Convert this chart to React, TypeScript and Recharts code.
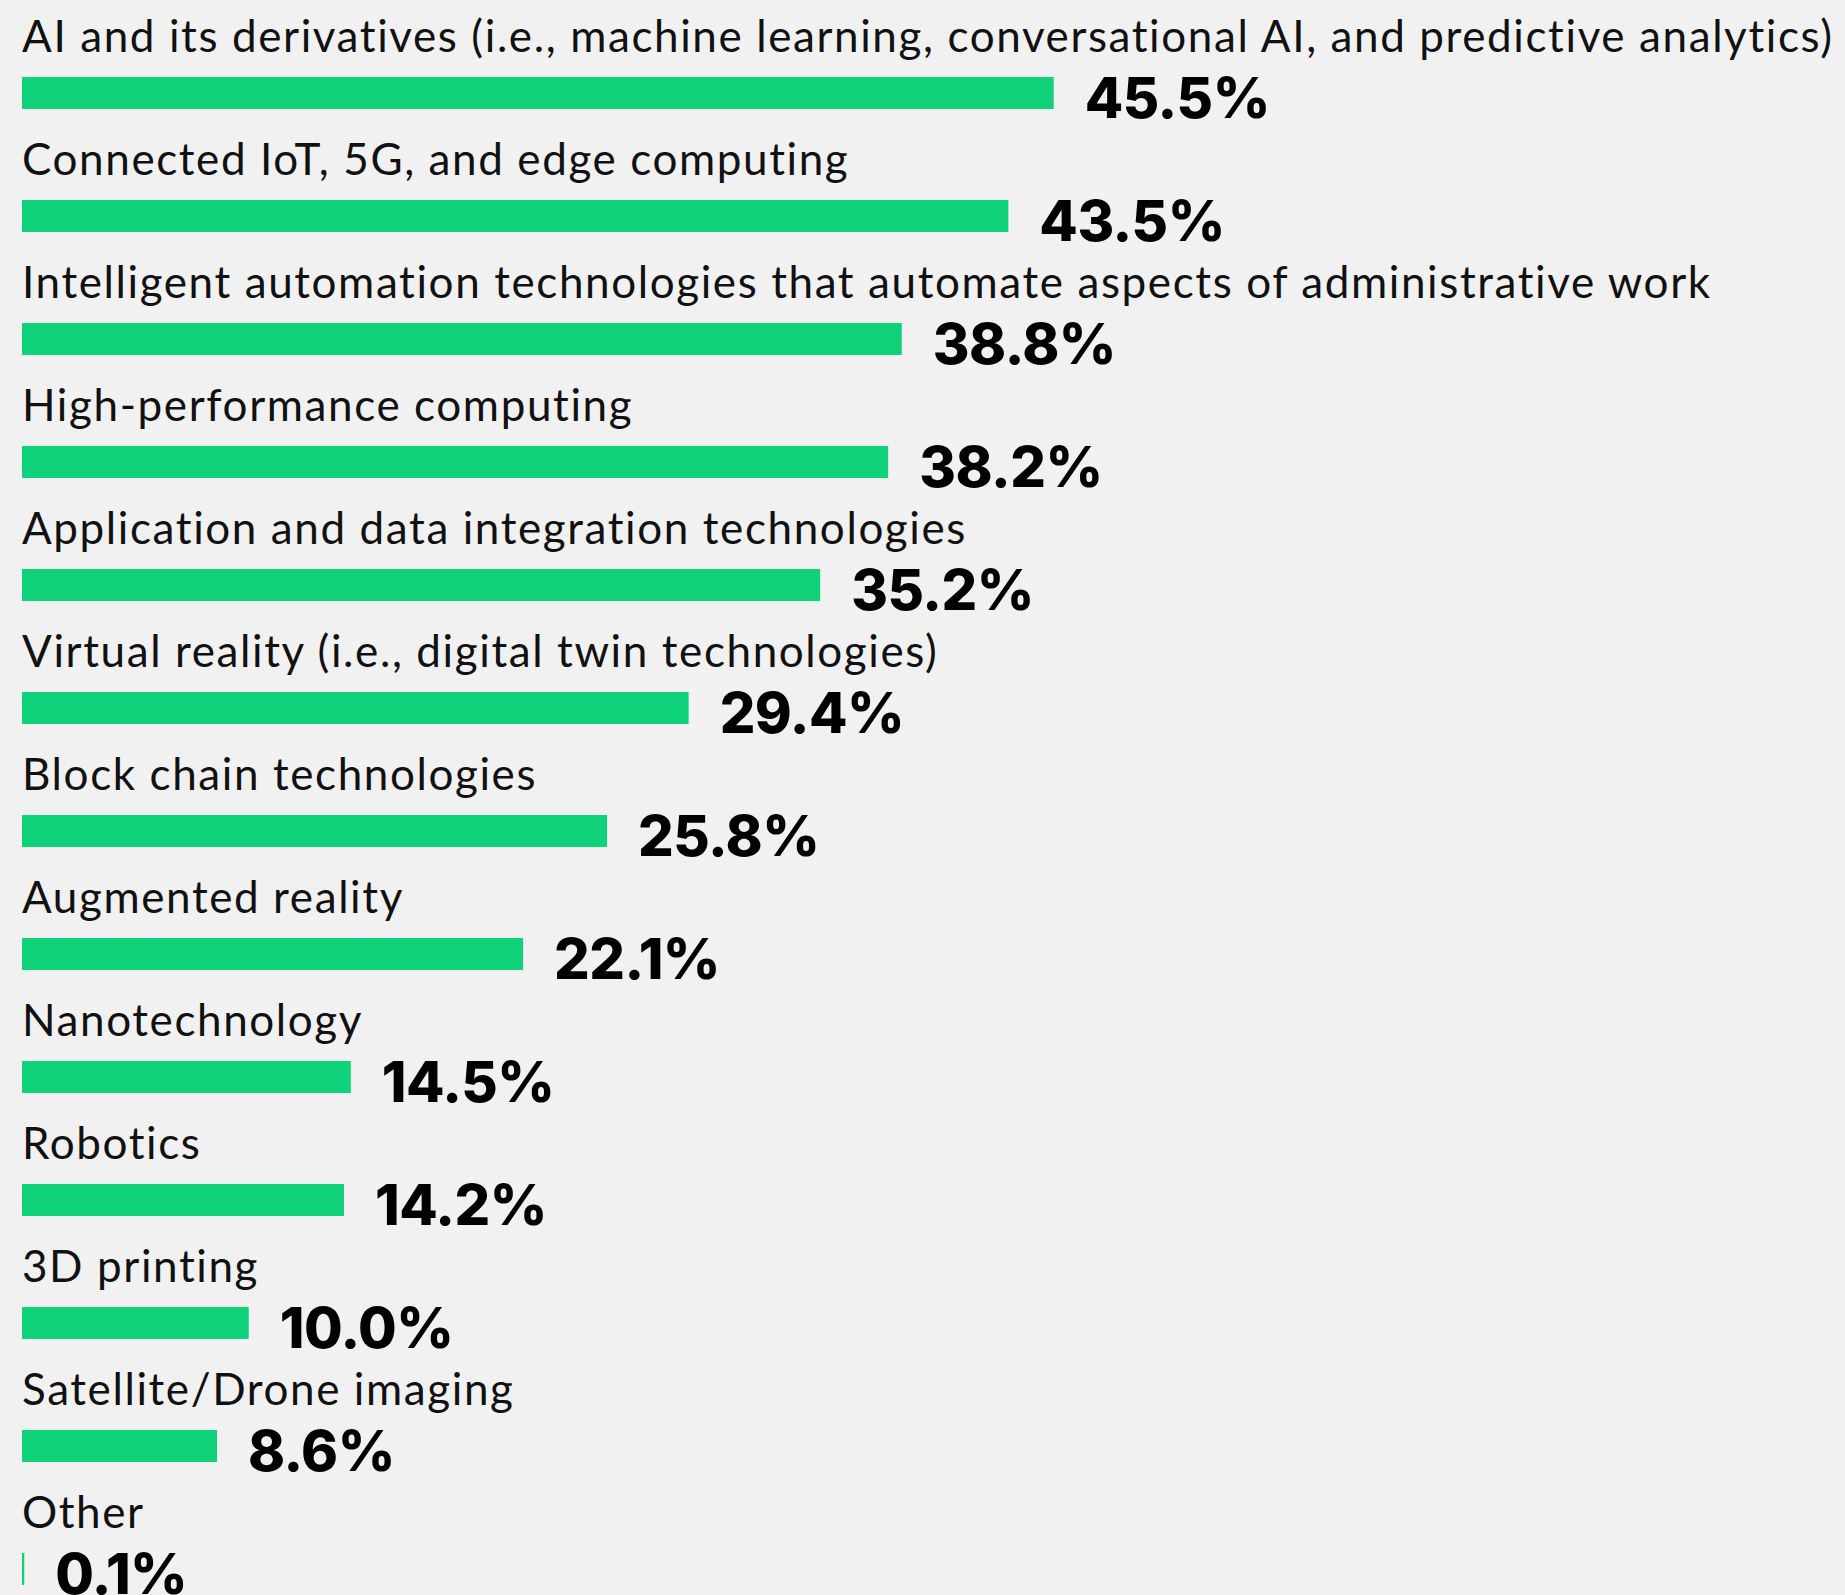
import React from 'react';
import { BarChart, Bar, XAxis, YAxis, LabelList } from 'recharts';

const categories = [
  'AI and its derivatives (i.e., machine learning, conversational AI, and predictive analytics)',
  'Connected IoT, 5G, and edge computing',
  'Intelligent automation technologies that automate aspects of administrative work',
  'High-performance computing',
  'Application and data integration technologies',
  'Virtual reality (i.e., digital twin technologies)',
  'Block chain technologies',
  'Augmented reality',
  'Nanotechnology',
  'Robotics',
  '3D printing',
  'Satellite/Drone imaging',
  'Other',
];

const values = [45.5, 43.5, 38.8, 38.2, 35.2, 29.4, 25.8, 22.1, 14.5, 14.2, 10.0, 8.6, 0.1];

const chartData = categories.map((name, i) => ({ name, value: values[i] }));

const BAR_COLOR = '#10d27a';
const BG = '#f1f1f1';

// category text sits above each bar, left aligned with the bar start
const renderName = (props: any) => {
  const vb = props.viewBox || props;
  return (
    <text
      x={vb.x}
      y={vb.y - 25}
      fill="#111"
      fontFamily="Lato, sans-serif"
      fontSize={44}
      letterSpacing={1.6}
      textAnchor="start"
    >
      {props.value}
    </text>
  );
};

// bold percentage to the right of the bar, dropped slightly below it
const renderValue = (props: any) => {
  const vb = props.viewBox || props;
  return (
    <text
      x={vb.x + vb.width + 31}
      y={vb.y + vb.height + 9}
      fill="#000"
      fontFamily="Inter, sans-serif"
      fontWeight={800}
      fontSize={56}
      letterSpacing={-0.5}
      textAnchor="start"
    >
      {Number(props.value).toFixed(1)}%
    </text>
  );
};

const App: React.FC = () => {
  return (
    <div
      style={{
        position: 'fixed',
        top: 0,
        left: 0,
        width: 1845,
        height: 1595,
        background: BG,
        overflow: 'hidden',
      }}
    >
      <BarChart
        width={1845}
        height={1631}
        data={chartData}
        layout="vertical"
        margin={{ top: 31, right: 9, left: 22, bottom: 1 }}
      >
        <XAxis type="number" domain={[0, 80]} hide />
        <YAxis type="category" dataKey="name" hide width={0} />
        <Bar dataKey="value" fill={BAR_COLOR} barSize={32} isAnimationActive={false}>
          <LabelList dataKey="name" content={renderName} />
          <LabelList dataKey="value" content={renderValue} />
        </Bar>
      </BarChart>
    </div>
  );
};

export default App;
